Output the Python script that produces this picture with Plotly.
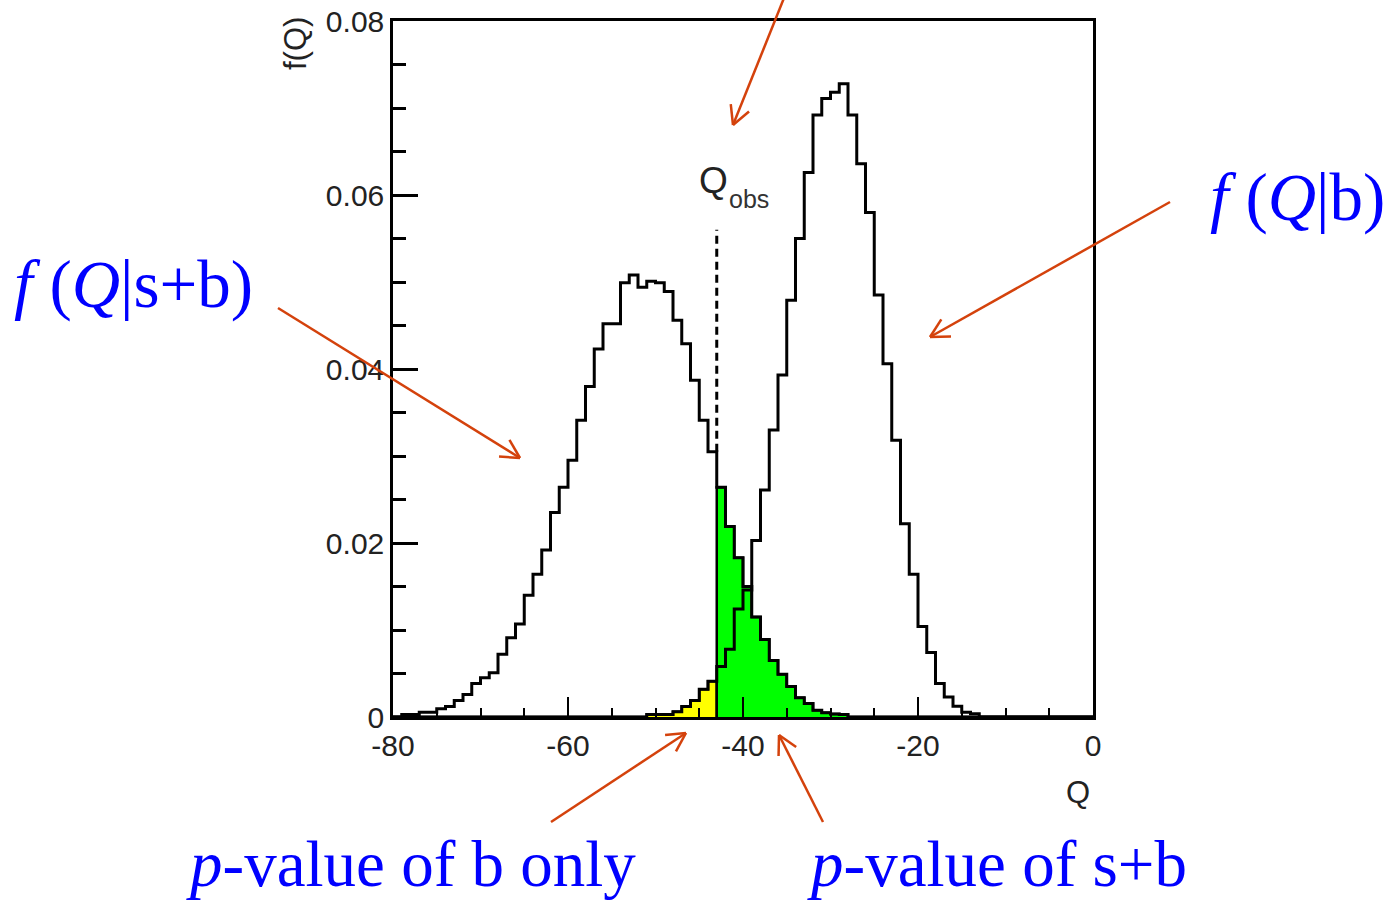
import math
import plotly.graph_objects as go

# ---------------- data ----------------
bin_width = 1.0
q_bin_left = list(range(-80, 0))          # 80 bins of width 1 from -80 to 0

sb_values = [
    0.0, 0.0003, 0.0003, 0.00055, 0.00055, 0.00094, 0.0012, 0.0019, 0.0026, 0.00385,
    0.0045, 0.0051, 0.0072, 0.0091, 0.0107, 0.0140, 0.0164, 0.0192, 0.0235, 0.0264,
    0.0295, 0.0341, 0.0380, 0.0423, 0.0452, 0.0452, 0.0499, 0.0508, 0.0494, 0.0501,
    0.0499, 0.0489, 0.0456, 0.0429, 0.0387, 0.0341, 0.0305, 0.0264, 0.0219, 0.0183,
    0.0150, 0.0115, 0.0089, 0.0065, 0.0049, 0.0035, 0.0022, 0.00155, 0.00078, 0.0005,
    0.00035, 0.0003, 0.0, 0.0, 0.0, 0.0, 0.0, 0.0, 0.0, 0.0,
    0.0, 0.0, 0.0, 0.0, 0.0, 0.0, 0.0, 0.0, 0.0, 0.0,
    0.0, 0.0, 0.0, 0.0, 0.0, 0.0, 0.0, 0.0, 0.0, 0.0,
]

b_values = [
    0.0, 0.0, 0.0, 0.0, 0.0, 0.0, 0.0, 0.0, 0.0, 0.0,
    0.0, 0.0, 0.0, 0.0, 0.0, 0.0, 0.0, 0.0, 0.0, 0.0,
    0.0, 0.0, 0.0, 0.0, 0.0, 0.0, 0.0, 0.0, 0.0, 0.0003,
    0.0003, 0.0003, 0.0006, 0.0012, 0.0019, 0.0032, 0.0041, 0.0058, 0.0078, 0.0124,
    0.0146, 0.0203, 0.0261, 0.0330, 0.0393, 0.0479, 0.0550, 0.0626, 0.0692, 0.0711,
    0.0718, 0.0728, 0.0692, 0.0636, 0.0580, 0.0485, 0.0406, 0.0318, 0.0222, 0.0164,
    0.0104, 0.0074, 0.00385, 0.0023, 0.00124, 0.00055, 0.00037, 0.0, 0.0, 0.0,
    0.0, 0.0, 0.0, 0.0, 0.0, 0.0, 0.0, 0.0, 0.0, 0.0,
]

q_obs = -43
q_obs_line_top = 0.056

x_tick_vals = [-80, -60, -40, -20, 0]
x_tick_text = ["-80", "-60", "-40", "-20", "0"]
y_tick_vals = [0, 0.02, 0.04, 0.06, 0.08]
y_tick_text = ["0", "0.02", "0.04", "0.06", "0.08"]

# ---------------- helpers ----------------
W, H = 1391, 901
PL, PR, PT, PB = 393, 1093, 21, 717


def step_xy(lefts, values, width):
    xs = [lefts[0]]
    ys = [0.0]
    for l, v in zip(lefts, values):
        xs.append(l)
        ys.append(v)
    xs.append(lefts[-1] + width)
    ys.append(0.0)
    return xs, ys


def px(x, y):
    return (x - PL) / (PR - PL), (PB - y) / (PB - PT)


fig = go.Figure()

# yellow: b-only tail left of Q_obs
yl = [l for l in q_bin_left if l + bin_width <= q_obs]
yv = [v for l, v in zip(q_bin_left, b_values) if l + bin_width <= q_obs]
xs, ys = step_xy(yl, yv, bin_width)
fig.add_trace(go.Scatter(x=xs, y=ys, mode="lines", line=dict(shape="hv", color="black", width=2.5),
                         fill="tozeroy", fillcolor="#FFFF00", hoverinfo="skip", showlegend=False))

# green: s+b tail right of Q_obs
gl = [l for l in q_bin_left if l >= q_obs]
gv = [v for l, v in zip(q_bin_left, sb_values) if l >= q_obs]
xs, ys = step_xy(gl, gv, bin_width)
fig.add_trace(go.Scatter(x=xs, y=ys, mode="lines", line=dict(shape="hv", color="black", width=2.5),
                         fill="tozeroy", fillcolor="#00FF00", hoverinfo="skip", showlegend=False))

# outlines
for vals in (sb_values, b_values):
    xs, ys = step_xy(q_bin_left, vals, bin_width)
    fig.add_trace(go.Scatter(x=xs, y=ys, mode="lines", line=dict(shape="hv", color="black", width=3),
                             hoverinfo="skip", showlegend=False))

# Q_obs dashed line
sb_at_obs = sb_values[q_bin_left.index(q_obs - 1)]
fig.add_trace(go.Scatter(x=[q_obs, q_obs], y=[sb_at_obs, q_obs_line_top], mode="lines",
                         line=dict(color="black", width=3, dash="8px,5px"),
                         hoverinfo="skip", showlegend=False))

# ---------------- arrows ----------------
RED = "#D4420C"
arrows = [
    ((278, 308), (520, 458)),
    ((1170, 202), (930, 337)),
    ((784, -2), (733, 125)),
    ((551, 822), (686, 733)),
    ((823, 822), (779, 735)),
]
shapes = []
for (tx, ty), (hx, hy) in arrows:
    x0, y0 = px(tx, ty)
    x1, y1 = px(hx, hy)
    shapes.append(dict(type="line", xref="paper", yref="paper", x0=x0, y0=y0, x1=x1, y1=y1,
                       line=dict(color=RED, width=2.5)))
    ang = math.atan2(ty - hy, tx - hx)
    for d in (math.radians(28), -math.radians(28)):
        wx = hx + 21 * math.cos(ang + d)
        wy = hy + 21 * math.sin(ang + d)
        a0, b0 = px(hx, hy)
        a1, b1 = px(wx, wy)
        shapes.append(dict(type="line", xref="paper", yref="paper", x0=a0, y0=b0, x1=a1, y1=b1,
                           line=dict(color=RED, width=2.5)))

# ---------------- annotations ----------------
SANS = "Liberation Sans, Arial, sans-serif"
SERIF = "Liberation Serif, Times New Roman, serif"
TXT = "#222222"
BLUE = "#0000FF"
ann = []


def add_text(text, x, y, size, family, color, xanchor="center", yanchor="middle", angle=0):
    xp, yp = px(x, y)
    ann.append(dict(text=text, x=xp, y=yp, xref="paper", yref="paper", showarrow=False,
                    xanchor=xanchor, yanchor=yanchor, textangle=angle,
                    font=dict(size=size, family=family, color=color)))


add_text("f(Q)", 295, 44, 31, SANS, TXT, angle=-90)
add_text("Q", 1078, 792, 31, SANS, TXT)
add_text("Q", 713, 180, 37, SANS, TXT)
add_text("obs", 749, 199, 25, SANS, "#333333")
add_text("<i>f</i> (<i>Q</i>|s+b)", 133, 284, 67, SERIF, BLUE)
add_text("<i>f</i> (<i>Q</i>|b)", 1297, 197, 67, SERIF, BLUE)
add_text("<i>p</i>-value of b only", 411, 864, 65, SERIF, BLUE)
add_text("<i>p</i>-value of s+b", 997, 864, 65, SERIF, BLUE)

axis_common = dict(showline=True, linecolor="black", linewidth=2.5, mirror=True,
                   showgrid=False, zeroline=False, ticks="inside", tickcolor="black",
                   automargin=False,
                   tickfont=dict(size=30, family=SANS, color=TXT))

fig.update_layout(
    width=W, height=H,
    margin=dict(l=PL, r=W - PR, t=PT, b=H - PB, pad=0, autoexpand=False),
    paper_bgcolor="white", plot_bgcolor="white",
    showlegend=False,
    xaxis=dict(range=[-80, 0], tickmode="array", tickvals=x_tick_vals, ticktext=x_tick_text,
               ticklen=20, tickwidth=2,
               minor=dict(ticks="inside", tickmode="linear", tick0=-80, dtick=5, ticklen=9,
                          tickwidth=2, tickcolor="black"),
               **axis_common),
    yaxis=dict(range=[0, 0.08], tickmode="array", tickvals=y_tick_vals, ticktext=y_tick_text,
               ticklen=25, tickwidth=2.5,
               minor=dict(ticks="inside", tickmode="linear", tick0=0, dtick=0.005, ticklen=13,
                          tickwidth=2.5, tickcolor="black"),
               **axis_common),
    shapes=shapes,
    annotations=ann,
)

fig.write_html("out.html", config={"displayModeBar": False},
               post_script="document.body.style.margin='0px';document.body.style.padding='0px';")
